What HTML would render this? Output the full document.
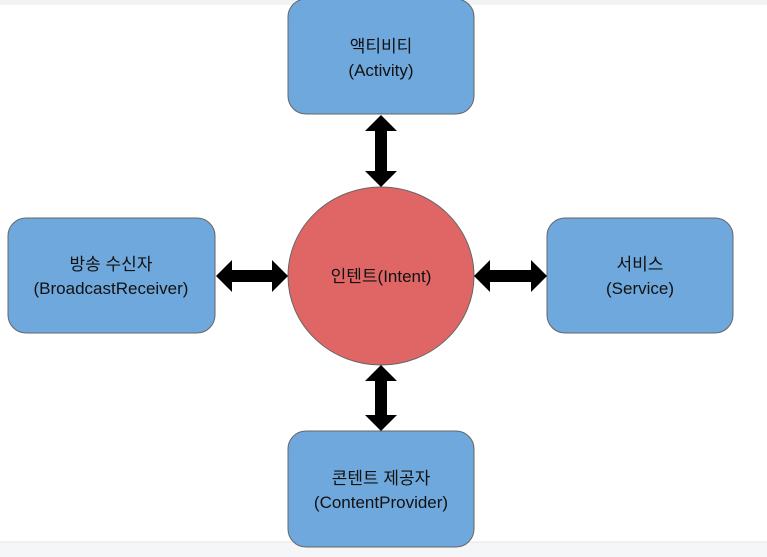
<!DOCTYPE html>
<html><head><meta charset="utf-8"><style>
html,body{margin:0;padding:0;background:#fff;width:767px;height:557px;overflow:hidden}
svg text{font-family:"Liberation Sans","Noto Sans CJK KR",sans-serif;font-size:17px;fill:#111;text-anchor:middle}
</style></head><body>
<svg width="767" height="557" viewBox="0 0 767 557" xmlns="http://www.w3.org/2000/svg">
<rect x="0" y="0" width="767" height="5" fill="#f1f2f4"/>
<rect x="0" y="542" width="767" height="15" fill="#f5f6f8"/>
<line x1="0" y1="542" x2="767" y2="542" stroke="#e3e4e6"/>
<g fill="#6fa8dc" stroke="#666" stroke-width="1">
<rect x="288" y="-1" width="186" height="115" rx="18"/>
<rect x="8" y="218" width="207" height="115" rx="18"/>
<rect x="547" y="218" width="186" height="115" rx="18"/>
<rect x="288" y="431" width="186" height="116" rx="18"/>
</g>
<ellipse cx="381" cy="276" rx="93" ry="89" fill="#e06666" stroke="#666"/>
<g fill="#000">
<polygon points="381,115 397,131 387,131 387,171 397,171 381,187 365,171 375,171 375,131 365,131"/>
<polygon points="381,365 397,381 387,381 387,415 397,415 381,431 365,415 375,415 375,381 365,381"/>
<polygon points="216,276 232,260 232,270 272,270 272,260 288,276 272,292 272,282 232,282 232,292"/>
<polygon points="474,276 490,260 490,270 531,270 531,260 547,276 531,292 531,282 490,282 490,292"/>
</g>
<text x="381" y="52">액티비티</text><text x="381" y="76">(Activity)</text>
<text x="111" y="270">방송 수신자</text><text x="111" y="294">(BroadcastReceiver)</text>
<text x="640" y="270">서비스</text><text x="640" y="294">(Service)</text>
<text x="381" y="282">인텐트(Intent)</text>
<text x="381" y="484">콘텐트 제공자</text><text x="381" y="508">(ContentProvider)</text>
</svg>
</body></html>
